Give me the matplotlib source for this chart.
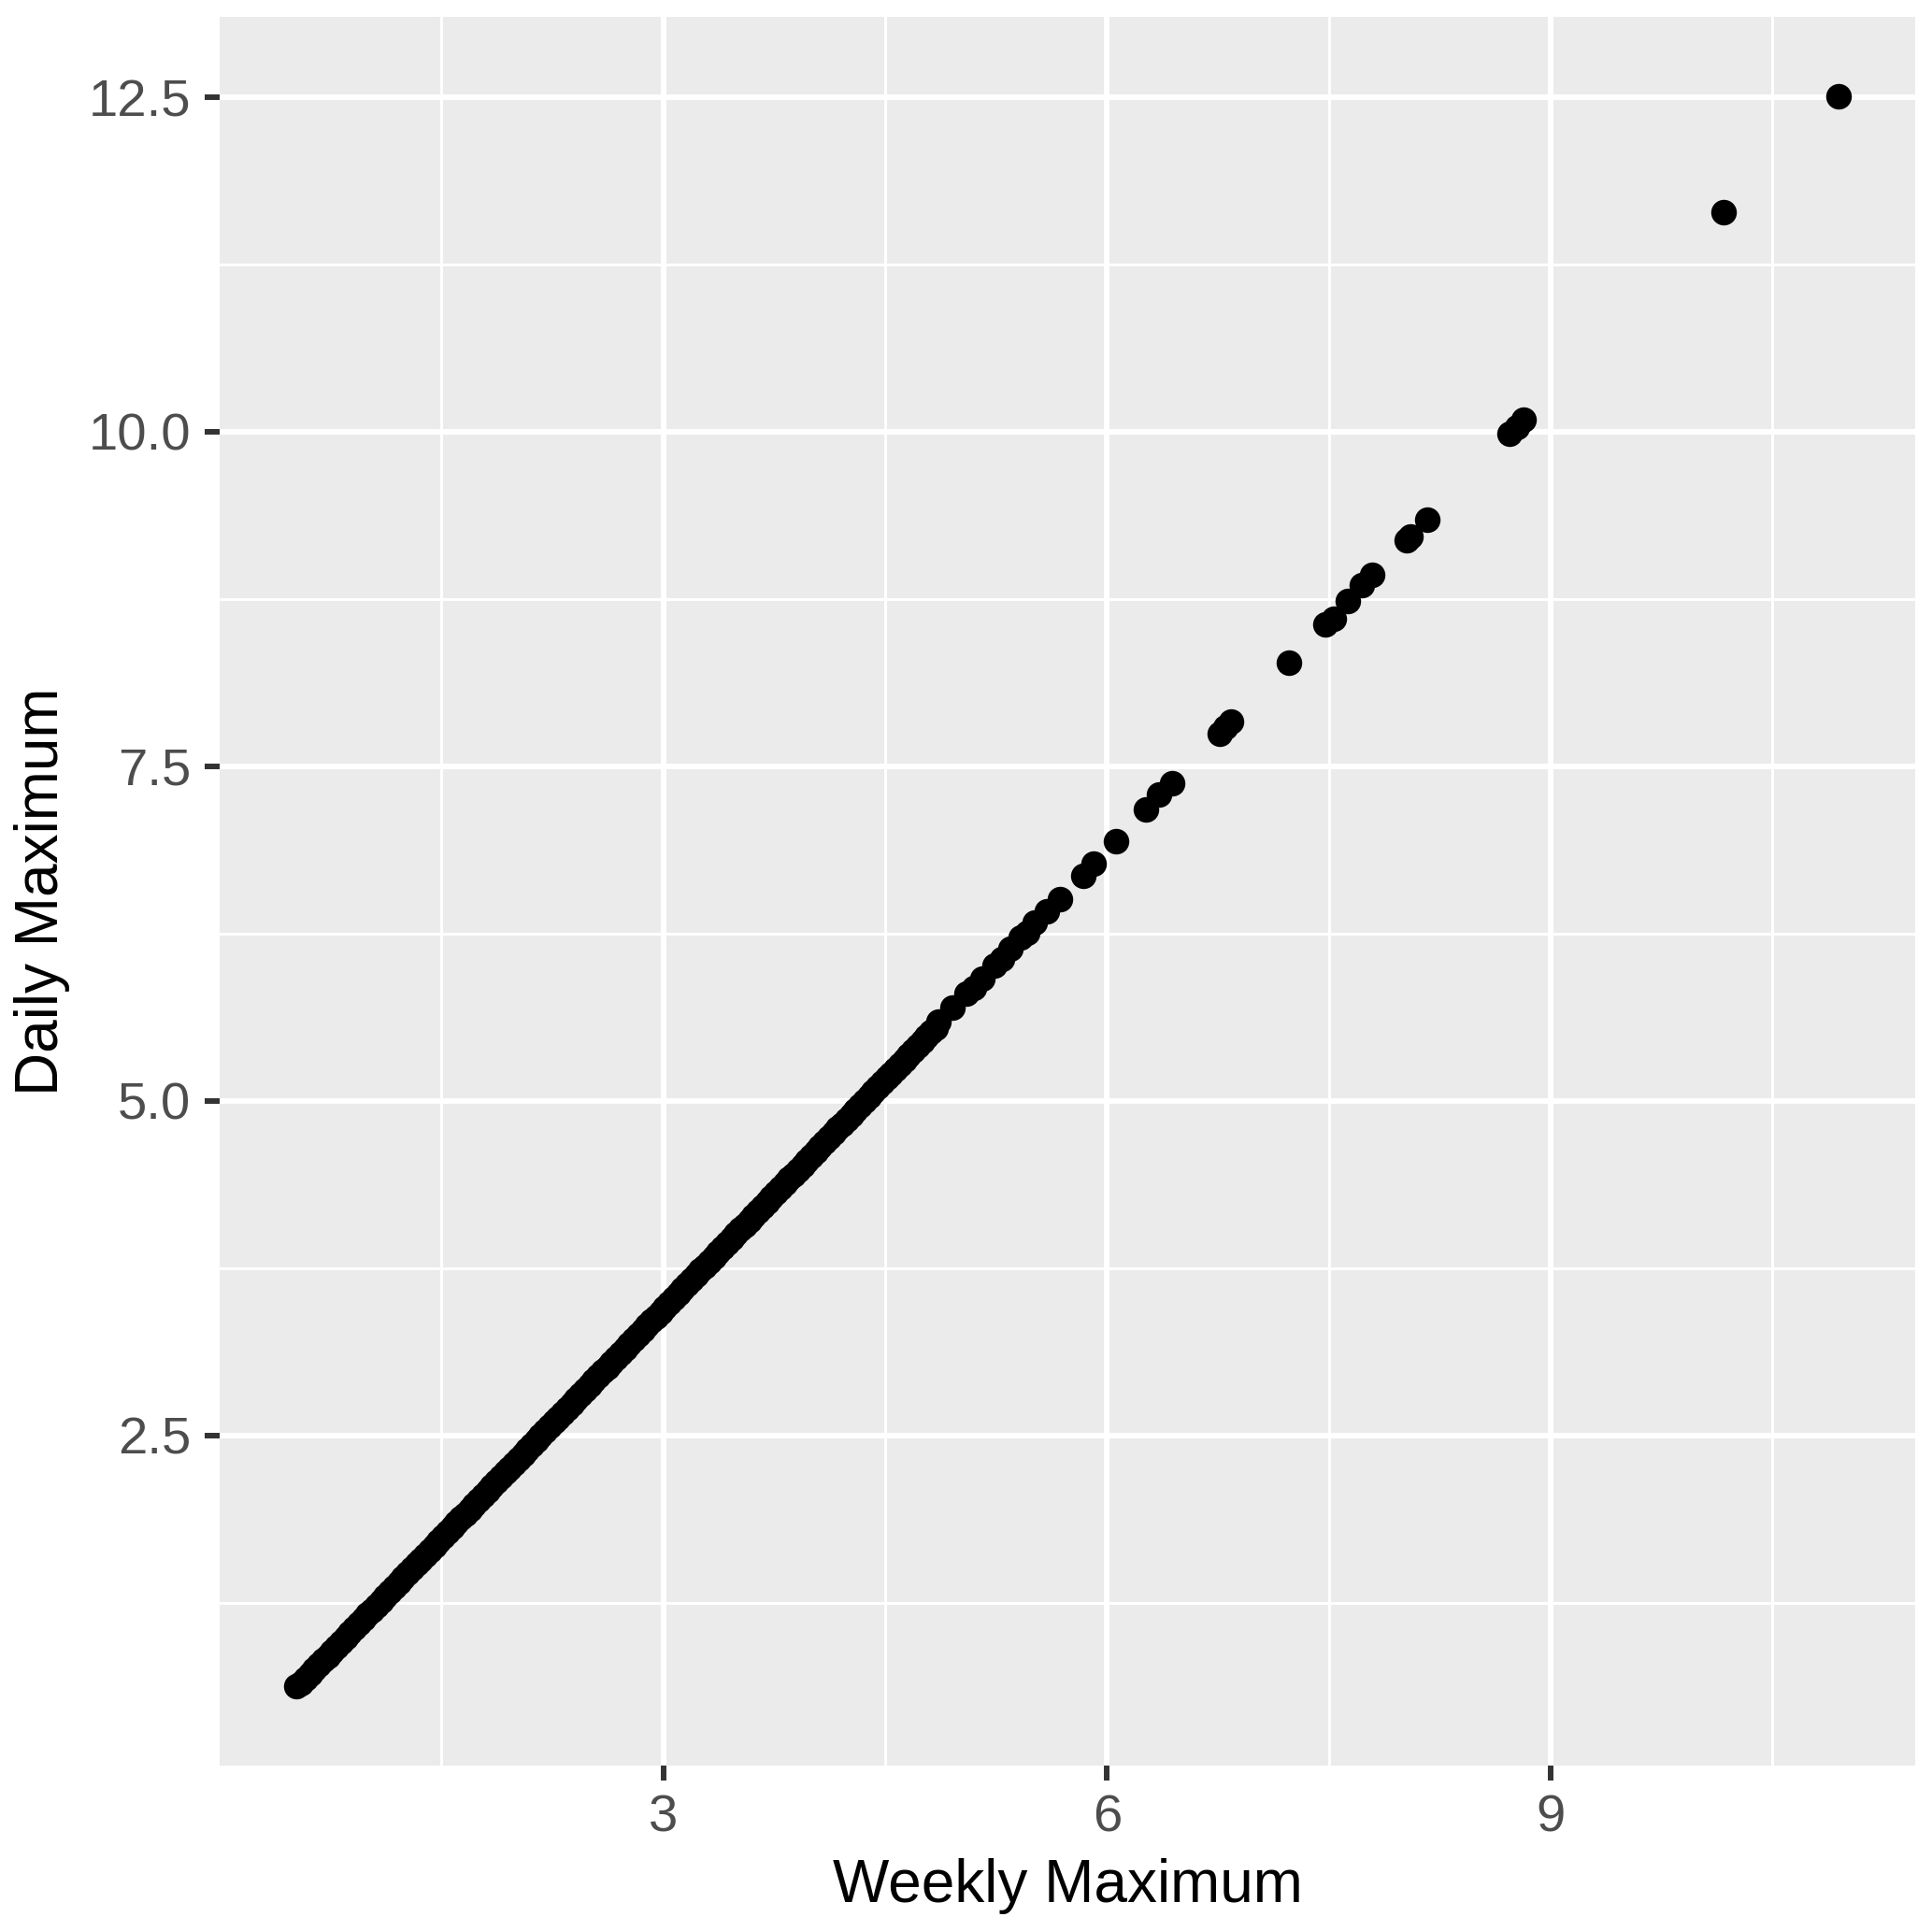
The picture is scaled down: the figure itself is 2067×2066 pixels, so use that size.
import matplotlib
matplotlib.use("Agg")
import matplotlib.pyplot as plt
import numpy as np

plt.rcParams["font.family"] = ["Liberation Sans", "DejaVu Sans"]

# dense part of the cloud
weekly_dense = [0.52, 0.55, 0.58, 0.61, 0.64, 0.67, 0.70, 0.73, 0.76, 0.79,
                0.82, 0.85, 0.88, 0.91, 0.94, 0.97, 1.00, 1.03, 1.06, 1.09,
                1.12, 1.15, 1.18, 1.21, 1.24, 1.27, 1.30, 1.33, 1.36, 1.39,
                1.42, 1.45, 1.48, 1.51, 1.54, 1.57, 1.60, 1.63, 1.66, 1.69,
                1.72, 1.75, 1.78, 1.81, 1.84, 1.87, 1.90, 1.93, 1.96, 1.99,
                2.02, 2.05, 2.08, 2.11, 2.14, 2.17, 2.20, 2.23, 2.26, 2.29,
                2.32, 2.35, 2.38, 2.41, 2.44, 2.47, 2.50, 2.53, 2.56, 2.59,
                2.62, 2.65, 2.68, 2.71, 2.74, 2.77, 2.80, 2.83, 2.86, 2.89,
                2.92, 2.95, 2.98, 3.01, 3.04, 3.07, 3.10, 3.13, 3.16, 3.19,
                3.22, 3.25, 3.28, 3.31, 3.34, 3.37, 3.40, 3.43, 3.46, 3.49,
                3.52, 3.55, 3.58, 3.61, 3.64, 3.67, 3.70, 3.73, 3.76, 3.79,
                3.82, 3.85, 3.88, 3.91, 3.94, 3.97, 4.00, 4.03, 4.06, 4.09,
                4.12, 4.15, 4.18, 4.21, 4.24, 4.27, 4.30, 4.33, 4.36, 4.39,
                4.42, 4.45, 4.48, 4.51, 4.54, 4.57, 4.60, 4.63, 4.66, 4.69,
                4.72, 4.75, 4.78, 4.81, 4.84]
daily_dense = [0.628, 0.648, 0.683, 0.717, 0.751, 0.785, 0.820, 0.854, 0.888, 0.922,
               0.957, 0.991, 1.025, 1.059, 1.094, 1.128, 1.162, 1.196, 1.231, 1.265,
               1.299, 1.333, 1.368, 1.402, 1.436, 1.471, 1.505, 1.539, 1.573, 1.608,
               1.642, 1.676, 1.710, 1.745, 1.779, 1.813, 1.847, 1.882, 1.916, 1.950,
               1.984, 2.019, 2.053, 2.087, 2.121, 2.156, 2.190, 2.224, 2.258, 2.293,
               2.327, 2.361, 2.396, 2.430, 2.464, 2.498, 2.533, 2.567, 2.601, 2.635,
               2.670, 2.704, 2.738, 2.772, 2.807, 2.841, 2.875, 2.909, 2.944, 2.978,
               3.012, 3.046, 3.081, 3.115, 3.149, 3.183, 3.218, 3.252, 3.286, 3.321,
               3.355, 3.389, 3.423, 3.458, 3.492, 3.526, 3.560, 3.595, 3.629, 3.663,
               3.697, 3.732, 3.766, 3.800, 3.834, 3.869, 3.903, 3.937, 3.971, 4.006,
               4.040, 4.074, 4.108, 4.143, 4.177, 4.211, 4.246, 4.280, 4.314, 4.348,
               4.383, 4.417, 4.451, 4.485, 4.520, 4.554, 4.588, 4.622, 4.657, 4.691,
               4.725, 4.759, 4.794, 4.828, 4.862, 4.896, 4.931, 4.965, 4.999, 5.033,
               5.068, 5.102, 5.136, 5.171, 5.205, 5.239, 5.273, 5.308, 5.342, 5.376,
               5.410, 5.445, 5.479, 5.513, 5.547]

# sparser upper part
weekly_upper = [4.859, 4.954, 5.049, 5.100, 5.154, 5.238, 5.290, 5.344, 5.418, 5.460,
                5.512, 5.596, 5.680, 5.838, 5.912, 6.059, 6.265, 6.353, 6.437, 6.764,
                6.800, 6.838, 7.227, 7.479, 7.532, 7.627, 7.722, 7.795, 8.028, 8.049,
                8.164, 8.722, 8.770, 8.817, 10.171, 10.944]
daily_upper = [5.591, 5.696, 5.801, 5.844, 5.917, 6.010, 6.061, 6.138, 6.220, 6.255,
               6.336, 6.418, 6.510, 6.685, 6.774, 6.941, 7.181, 7.290, 7.376, 7.744,
               7.790, 7.837, 8.273, 8.559, 8.605, 8.734, 8.855, 8.932, 9.188, 9.218,
               9.344, 9.984, 10.035, 10.089, 11.639, 12.510]

x_major = [3, 6, 9]
x_minor = [1.5, 4.5, 7.5, 10.5]
y_major = [2.5, 5.0, 7.5, 10.0, 12.5]
y_minor = [1.25, 3.75, 6.25, 8.75, 11.25]

x = np.array(weekly_dense + weekly_upper)
y = np.array(daily_dense + daily_upper)

fig = plt.figure(figsize=(20.67, 20.66), dpi=100)
ax = fig.add_axes([235 / 2067, 1 - 1889 / 2066, 1814 / 2067, 1871.5 / 2066])
ax.set_facecolor("#EBEBEB")
ax.set_axisbelow(True)

ax.scatter(x, y, s=390, color="black", linewidths=0, zorder=3)


def expand(v):
    lo, hi = v.min(), v.max()
    pad = 0.05 * (hi - lo)
    return lo - pad, hi + pad


ax.set_xlim(*expand(x))
ax.set_ylim(*expand(y))
ax.set_xticks(x_major)
ax.set_xticks(x_minor, minor=True)
ax.set_yticks(y_major)
ax.set_yticks(y_minor, minor=True)
ax.set_xticklabels([str(v) for v in x_major])
ax.set_yticklabels([f"{v:.1f}" for v in y_major])

ax.grid(which="major", color="white", linewidth=4.3)
ax.grid(which="minor", color="white", linewidth=2.15)
for s in ax.spines.values():
    s.set_visible(False)

ax.tick_params(which="major", length=11.5, width=4.3, color="#333333",
               labelsize=40.5, labelcolor="#4D4D4D", pad=10.5)
ax.tick_params(which="minor", length=0)

ax.set_xlabel("Weekly Maximum", fontsize=46, color="black", labelpad=12)
ax.set_ylabel("Daily Maximum", fontsize=46, color="black", labelpad=14)

fig.savefig("out.png", dpi=100, facecolor="white")
